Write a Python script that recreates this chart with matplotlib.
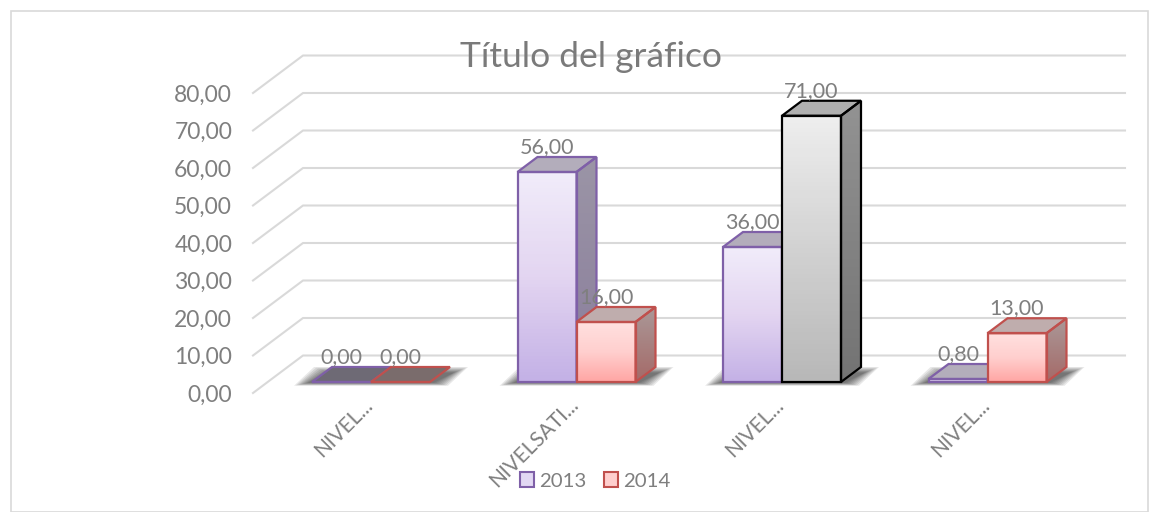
import matplotlib
matplotlib.use("Agg")
import matplotlib.pyplot as plt
from matplotlib.colors import LinearSegmentedColormap
from matplotlib.patches import Patch, Polygon, Rectangle
import numpy as np

plt.rcParams['font.family'] = ['Lato', 'DejaVu Sans']

categories = ["NIVEL...", "NIVELSATI...", "NIVEL...", "NIVEL..."]
series_names = ["2013", "2014"]
values_2013 = [0.0, 56.0, 36.0, 0.8]
values_2014 = [0.0, 16.0, 71.0, 13.0]
y_ticks = [0, 10, 20, 30, 40, 50, 60, 70, 80]

TEXT = "#7F7F7F"
GRID = "#D9D9D9"
PURPLE = dict(edge="#7F60A8", front=["#F1ECFA", "#E3D5F1", "#C4B1E6"],
              side=["#9B95A6", "#8A7D9C"], top="#B3ADBB", flat="#6E6A75")
RED = dict(edge="#C0504D", front=["#FFE0DF", "#FFCFCE", "#FFA6A4"],
           side=["#AA9898", "#A56A68"], top="#BFADAD", flat="#7A6C6C")
GREY = dict(edge="#000000", front=["#EEEEEE", "#D2D2D2", "#B8B8B8"],
            side=["#939393", "#737373"], top="#AFAFAF", flat="#6E6E6E")

W, H = 1160, 512
CAT = 205.5  # pixels per category
UNIT = 3.75  # pixels per value unit
BAR = 59 / CAT
DX = 20 / CAT
DY = 15 / UNIT
WALL_DX = 50 / CAT
WALL_DY = 37.5 / UNIT
FRONT = -11 / UNIT  # front edge of the floor sits under the bars
Y_MIN = -3


def vgrad(ax, colors, extent, z, clip=None):
    cmap = LinearSegmentedColormap.from_list("g", colors)
    im = ax.imshow(np.linspace(0, 1, 64).reshape(-1, 1), cmap=cmap, extent=extent,
                   origin="upper", aspect="auto", zorder=z, clip_on=True)
    im.set_clip_path(clip if clip is not None else
                     Rectangle((extent[0], extent[2]), extent[1] - extent[0],
                               extent[3] - extent[2], transform=ax.transData))


def draw_bar(ax, x0, v, style, z):
    x1 = x0 + BAR
    edge = dict(edgecolor=style["edge"], linewidth=1.6, joinstyle="miter")
    if v > 0:
        vgrad(ax, style["front"], (x0, x1, 0, v), z)
        side = Polygon([(x1, 0), (x1 + DX, DY), (x1 + DX, v + DY), (x1, v)],
                       transform=ax.transData, facecolor="none")
        vgrad(ax, style["side"], (x1, x1 + DX, 0, v + DY), z, clip=side)
    ax.add_patch(Polygon([(x0, v), (x1, v), (x1 + DX, v + DY), (x0 + DX, v + DY)],
                         facecolor=style["top"] if v > 0 else style["flat"],
                         zorder=z + 0.1, clip_on=False, **edge))
    if v > 0:
        ax.add_patch(Polygon([(x1, 0), (x1 + DX, DY), (x1 + DX, v + DY), (x1, v)],
                             facecolor="none", zorder=z + 0.1, clip_on=False, **edge))
    ax.add_patch(Rectangle((x0, 0), BAR, v, facecolor="none", zorder=z + 0.2,
                           clip_on=False, **edge))


def draw_shadow(ax, x0, x1, z):
    for grow in np.linspace(1, 0, 8):
        s = (4 + 14 * grow) / CAT
        low = -(0.2 + 0.8 * grow)
        high = DY + 1.5 * grow - 1.5
        ax.add_patch(Polygon([(x0 - s, low), (x1 + s, low), (x1 + DX + s, high),
                              (x0 + DX - s, high)], facecolor="#000000", alpha=0.09,
                             edgecolor="none", zorder=z, clip_on=False))


fig = plt.figure(figsize=(W / 100, H / 100), dpi=100)
fig.patch.set_facecolor("white")
fig.add_artist(Rectangle((10.5 / W, 0), 1137 / W, (H - 11) / H, transform=fig.transFigure,
                         facecolor="none", edgecolor=GRID, linewidth=1.2))

bottom_px = 382 - Y_MIN * UNIT
ax = fig.add_axes([268.25 / W, (H - bottom_px) / H, 4 * CAT / W, (bottom_px - 82) / H])
ax.patch.set_visible(False)
for spine in ax.spines.values():
    spine.set_visible(False)

left = -0.5 + (253 - 268.25) / CAT
right_back = (1125 - 371) / CAT
for tick in y_ticks:
    ax.plot([left, left + WALL_DX, right_back],
            [tick + FRONT, tick + FRONT + WALL_DY, tick + FRONT + WALL_DY],
            color=GRID, linewidth=1.5, zorder=1, clip_on=False)

positions = np.arange(len(categories))
z = 2
for i, (a, b) in enumerate(zip(values_2013, values_2014)):
    draw_shadow(ax, i - BAR, i + BAR, z)
    z += 1
    draw_bar(ax, i - BAR, a, PURPLE, z)
    z += 1
    draw_bar(ax, i, b, GREY if b == max(values_2014) else RED, z)
    z += 1

for i, (a, b) in enumerate(zip(values_2013, values_2014)):
    for x, v in ((i - BAR / 2, a), (i + BAR / 2, b)):
        ax.annotate(f"{v:.2f}".replace(".", ","), (x, v), xytext=(0, 18),
                    textcoords="offset points", ha="center", va="center",
                    fontsize=15.5, color=TEXT, zorder=50, annotation_clip=False)

ax.set_xticks(positions - 8 / CAT)
ax.set_xticklabels(categories, rotation=45, ha="right", va="top", rotation_mode="anchor",
                   fontsize=15, color=TEXT)
ax.set_yticks([t + FRONT for t in y_ticks])
ax.set_yticklabels([f"{t:.2f}".replace(".", ",") for t in y_ticks], fontsize=16.5, color=TEXT)
ax.tick_params(axis="x", length=0, pad=1)
ax.tick_params(axis="y", length=0, pad=26)
# set after the ticks, set_yticks widens the view otherwise
ax.set_xlim(-0.5, 3.5)
ax.set_ylim(Y_MIN, 80)

fig.text(591 / W, 1 - 57 / H, "Título del gráfico", ha="center", va="center",
         fontsize=25.5, color="#7A7A7A", zorder=40)

handles = [Patch(facecolor="#E2D8F3", edgecolor=PURPLE["edge"], linewidth=1.5),
           Patch(facecolor="#FFCFCE", edgecolor=RED["edge"], linewidth=1.5)]
fig.legend(handles, series_names, loc="center", bbox_to_anchor=(595.5 / W, 1 - 481 / H),
           ncol=2, frameon=False, fontsize=14.7, labelcolor=TEXT, handlelength=0.7,
           handleheight=0.7, handletextpad=0.25, columnspacing=0.85)

fig.savefig("out.png", dpi=100)
plt.close(fig)
